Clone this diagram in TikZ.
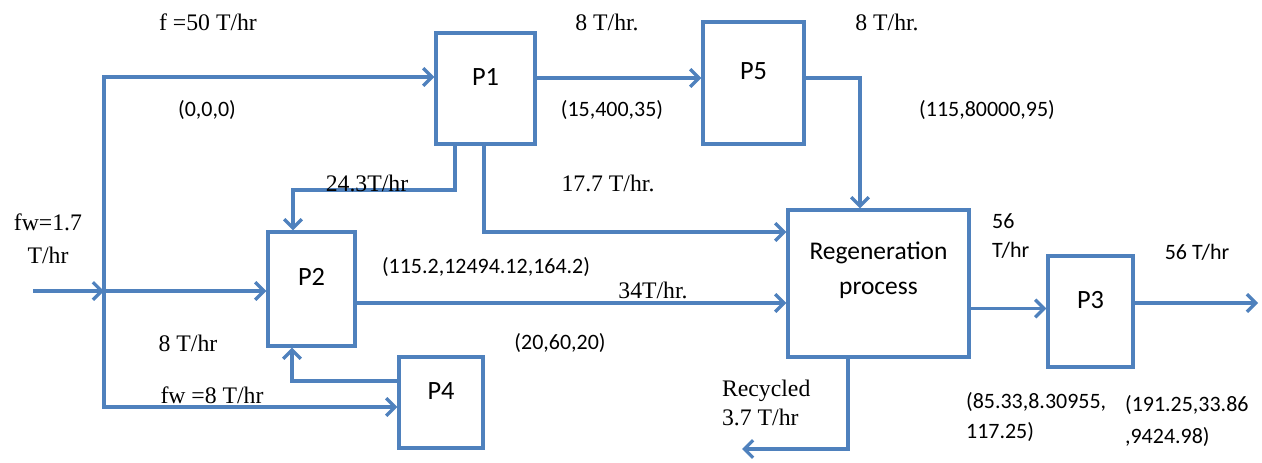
\documentclass[tikz,border=0pt]{standalone}
\usepackage{fontspec}
\setmainfont{Liberation Serif}
\newfontfamily\calib{Carlito}
\usepackage{xcolor}
\definecolor{pblue}{RGB}{79,129,189}
\usepackage{tikz}
\usetikzlibrary{arrows.meta,positioning,calc}
\tikzset{
  unit/.style={draw=pblue, line width=1.9pt, align=center, text depth=13.6pt, font=\calib\fontsize{15}{20}\selectfont},
  flow/.style={draw=pblue, line width=1.9pt, -{Straight Barb[length=5pt,width=10pt,line width=1.9pt]}},
  tlbl/.style={font=\fontsize{13.5}{17}\selectfont, inner sep=1pt},
  slbl/.style={font=\calib\fontsize{12.5}{17}\selectfont, inner sep=1pt}
}

\begin{document}
\begin{tikzpicture}[x=0.02cm,y=-0.02cm]
  \useasboundingbox (0,0) rectangle (1262,463);
  % units
  \node[unit, minimum width=1.98cm, minimum height=2.22cm] (p1) at (485.5,88.5) {P1};
  \node[unit, minimum width=2.02cm, minimum height=2.44cm] (p5) at (753.5,83) {P5};
  \node[unit, minimum width=1.74cm, minimum height=2.28cm] (p2) at (311.5,289) {P2};
  \node[unit, minimum width=1.68cm, minimum height=1.82cm] (p4) at (441,402.5) {P4};
  \node[unit, minimum width=3.62cm, minimum height=2.94cm, text depth=17pt, font=\calib\fontsize{14.5}{20}\selectfont] (regen) at (878.5,283.5) {Regeneration\\process};
  \node[unit, minimum width=1.70cm, minimum height=2.22cm] (p3) at (1090.5,311.5) {P3};
  % feed split
  \coordinate (in) at (33,291);
  \coordinate (split) at (104,291);
  \coordinate (ftop) at (104,77);
  \coordinate (fbot) at (104,407);
  \coordinate (k1) at (293,190);
  \coordinate (rec) at (742,449);
  \coordinate (out) at (1258,303);
  \draw[flow] (in) -- (split);
  \draw[flow] (split) -- (split -| p2.west);
  \draw[flow] (split) -- (ftop) -- (ftop -| p1.west);
  \draw[flow] (split) -- (fbot) -- (fbot -| p4.west);
  \draw[flow] ([yshift=0.21cm]p1.east) -- ([yshift=0.21cm]p1.east -| p5.west);
  \draw[flow] ([yshift=0.1cm]p5.east) -| ([xshift=-0.37cm]regen.north);
  \draw[flow] ([xshift=-0.61cm]p1.south) |- (k1) -- (k1 |- p2.north);
  \draw[flow] ([xshift=-0.03cm]p1.south) |- ([yshift=1.03cm]regen.west);
  \draw[flow] ([yshift=-0.28cm]p2.east) -- ([yshift=-0.28cm]p2.east -| regen.west);
  \draw[flow] ([yshift=0.43cm]p4.west) -| ([xshift=-0.39cm]p2.south);
  \draw[flow] ([yshift=-0.5cm]regen.east) -- ([yshift=-0.5cm]regen.east -| p3.west);
  \draw[flow] (p3.east |- out) -- (out);
  \draw[flow] ([xshift=-0.61cm]regen.south) |- (rec);
  % labels
  \node[tlbl] (lf) at (208,22) {f =50 T/hr};
  \node[slbl] (lf0) at (207,110) {(0,0,0)};
  \node[tlbl] (l15) at (607,22) {8 T/hr.};
  \node[slbl] (l15c) at (612,110) {(15,400,35)};
  \node[tlbl] (l5r) at (887,22) {8 T/hr.};
  \node[slbl] (l5rc) at (987,110) {(115,80000,95)};
  \node[tlbl] (l12) at (367,183) {24.3T/hr};
  \node[tlbl] (l1r) at (608,183) {17.7 T/hr.};
  \node[tlbl, align=center, font=\fontsize{13.5}{19}\selectfont] (lfw) at (48,239) {fw=1.7\\T/hr};
  \node[slbl] (l2rc) at (486,267) {(115.2,12494.12,164.2)};
  \node[tlbl] (l2r) at (653,290) {34T/hr.};
  \node[slbl] (l42c) at (560,343) {(20,60,20)};
  \node[tlbl] (l42) at (188,343) {8 T/hr};
  \node[tlbl] (lfw8) at (212,395) {fw =8 T/hr};
  \node[tlbl, align=left, font=\fontsize{13.5}{16.5}\selectfont, anchor=west] (lrec) at (720,403) {Recycled\\3.7 T/hr};
  \node[slbl, align=left, font=\calib\fontsize{12.5}{16.5}\selectfont, anchor=west] (lr3) at (990,236) {56\\T/hr};
  \node[slbl] (l3o) at (1197,252) {56 T/hr};
  \node[slbl, align=left, anchor=west] (lr3c) at (964,417) {(85.33,8.30955,\\117.25)};
  \node[slbl, align=left, font=\calib\fontsize{12.5}{18}\selectfont, anchor=west] (l3oc) at (1123,421) {(191.25,33.86\\,9424.98)};
\end{tikzpicture}
\end{document}
